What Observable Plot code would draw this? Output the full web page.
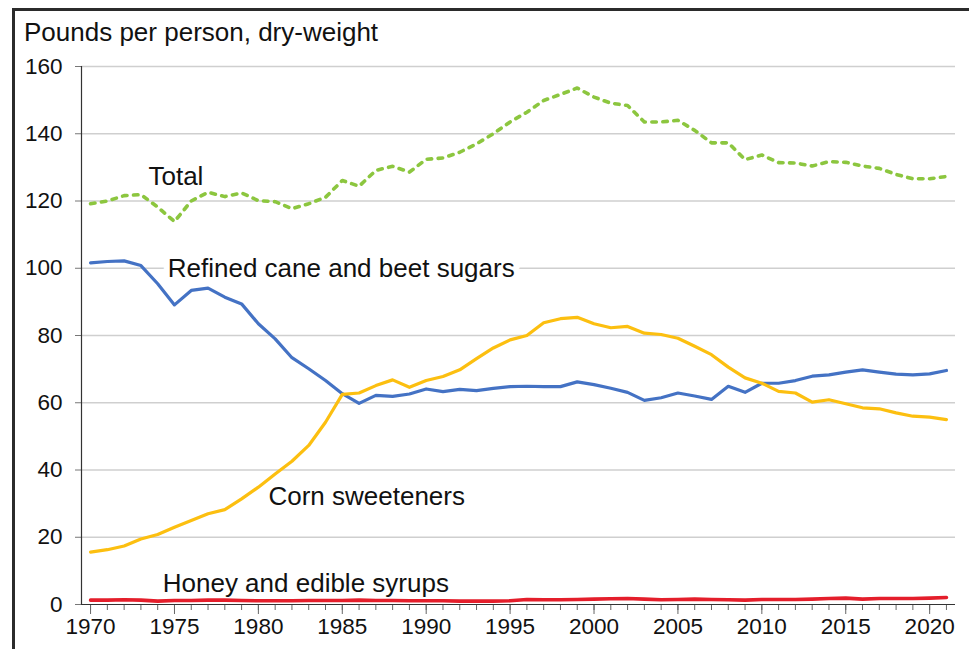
<!DOCTYPE html>
<html>
<head>
<meta charset="utf-8">
<script src="https://cdn.jsdelivr.net/npm/d3@7"></script>
<script src="https://cdn.jsdelivr.net/npm/@observablehq/plot@0.6"></script>
<style>
  html, body { margin: 0; padding: 0; background: #fff; }
  #wrap { position: relative; width: 969px; height: 649px; overflow: hidden; font-family: "Liberation Sans", Arial, sans-serif; }
  #frame { position: absolute; left: 12px; top: 8px; width: 980px; height: 700px; border-left: 3px solid #2b2b2b; border-top: 3px solid #2b2b2b; box-sizing: border-box; }
  #title { position: absolute; left: 24px; top: 17px; font-size: 26px; color: #111; white-space: nowrap; }
  #chart { position: absolute; left: 0; top: 0; }
</style>
</head>
<body>
<div id="wrap">
  <div id="frame"></div>
  <div id="chart"></div>
  <div id="title">Pounds per person, dry-weight</div>
</div>
<script>
const years = d3.range(1970, 2022);

const refined = [101.6, 102.0, 102.2, 100.8, 95.4, 89.1, 93.4, 94.1, 91.4, 89.4,
  83.5, 79.0, 73.4, 70.1, 66.6, 62.7, 59.8, 62.2, 61.9, 62.6,
  64.1, 63.3, 64.0, 63.6, 64.3, 64.8, 64.9, 64.8, 64.8, 66.2,
  65.4, 64.3, 63.1, 60.7, 61.5, 62.9, 62.0, 61.0, 64.9, 63.1,
  65.8, 65.8, 66.6, 67.9, 68.3, 69.1, 69.8, 69.1, 68.5, 68.3,
  68.6, 69.6];

const corn = [15.6, 16.3, 17.4, 19.5, 20.8, 23.0, 25.0, 27.0, 28.2, 31.4,
  34.9, 38.8, 42.6, 47.3, 54.2, 62.5, 62.9, 65.1, 66.8, 64.6,
  66.6, 67.8, 69.8, 73.1, 76.3, 78.7, 80.0, 83.8, 85.0, 85.4,
  83.5, 82.3, 82.7, 80.7, 80.3, 79.2, 76.8, 74.3, 70.6, 67.4,
  65.8, 63.4, 62.9, 60.2, 60.9, 59.7, 58.5, 58.2, 57.0, 56.0,
  55.7, 55.0];

const honey = [1.3, 1.3, 1.4, 1.3, 1.0, 1.2, 1.2, 1.3, 1.3, 1.2,
  1.1, 1.1, 1.1, 1.2, 1.2, 1.2, 1.3, 1.2, 1.2, 1.1,
  1.1, 1.1, 1.0, 1.0, 1.0, 1.1, 1.5, 1.4, 1.4, 1.5,
  1.6, 1.7, 1.8, 1.6, 1.4, 1.5, 1.6, 1.5, 1.4, 1.3,
  1.5, 1.5, 1.5, 1.6, 1.8, 1.9, 1.6, 1.8, 1.8, 1.8,
  1.9, 2.1];

const total = [119.2, 120.0, 121.6, 121.9, 118.2, 113.9, 120.0, 122.6, 121.3, 122.4,
  120.1, 119.8, 117.7, 119.2, 121.1, 126.1, 124.4, 129.1, 130.3, 128.6,
  132.4, 132.8, 134.5, 137.0, 140.0, 143.5, 146.4, 149.9, 151.7, 153.6,
  150.9, 149.1, 148.4, 143.5, 143.5, 144.0, 141.0, 137.3, 137.3, 132.3,
  133.7, 131.4, 131.3, 130.4, 131.7, 131.5, 130.4, 129.7, 127.9, 126.6,
  126.6, 127.3];

const yTicks = [0, 20, 40, 60, 80, 100, 120, 140, 160];
const xMajorTicks = [1970, 1975, 1980, 1985, 1990, 1995, 2000, 2005, 2010, 2015, 2020];

const seriesNames = ["Total", "Refined cane and beet sugars", "Corn sweeteners", "Honey and edible syrups"];
const labelX = [1973.45, 1974.6, 1980.6, 1974.3];
const labelY = [127.3, 100, 32.1, 6.2];

const table = (vals) => years.map((yr, i) => ({year: yr, value: vals[i]}));
const labels = seriesNames.map((name, i) => ({name, x: labelX[i], y: labelY[i]}));

const xDomain = [1969.46, 2021.54];

const chart = Plot.plot({
  width: 969,
  height: 649,
  marginTop: 66,
  marginBottom: 45,
  marginLeft: 81,
  marginRight: 14,
  style: { fontFamily: "'Liberation Sans', Arial, sans-serif", fontSize: "22px", color: "#111", background: "transparent", overflow: "visible" },
  x: { domain: xDomain },
  y: { domain: [0, 160] },
  marks: [
    Plot.gridY(yTicks.filter(d => d > 0), { stroke: "#cfcfcf", strokeOpacity: 1, strokeWidth: 1.3 }),
    Plot.axisY(yTicks, { tickSize: 6, tickPadding: 13, stroke: "#777", fill: "#111", fontSize: 22.5, label: null }),
    Plot.axisX(years, { tickSize: 6, tickFormat: () => "", stroke: "#666", label: null }),
    Plot.axisX(xMajorTicks, { tickSize: 10, tickPadding: 4, tickFormat: d => String(d), stroke: "#666", fill: "#111", fontSize: 22.5, label: null }),
    Plot.ruleX([xDomain[0]], { stroke: "#333", strokeWidth: 1.2 }),
    Plot.ruleY([0], { stroke: "#333", strokeWidth: 1.2 }),
    Plot.text(labels, { x: "x", y: "y", text: "name", textAnchor: "start", lineAnchor: "middle", fill: "#111", stroke: "white", strokeWidth: 12, strokeLinejoin: "round", paintOrder: "stroke", fontSize: 26 }),
    Plot.line(table(total), { x: "year", y: "value", stroke: "#8cc63f", strokeWidth: 3.6, strokeDasharray: "4.5,6.5", strokeLinecap: "round", strokeLinejoin: "round" }),
    Plot.line(table(refined), { x: "year", y: "value", stroke: "#4472c4", strokeWidth: 3.2, strokeLinejoin: "round" }),
    Plot.line(table(corn), { x: "year", y: "value", stroke: "#fcbf10", strokeWidth: 3.2, strokeLinejoin: "round" }),
    Plot.line(table(honey), { x: "year", y: "value", stroke: "#e41e2b", strokeWidth: 3.6, strokeLinejoin: "round", strokeLinecap: "round" })
  ]
});
document.getElementById("chart").appendChild(chart);
</script>
</body>
</html>
